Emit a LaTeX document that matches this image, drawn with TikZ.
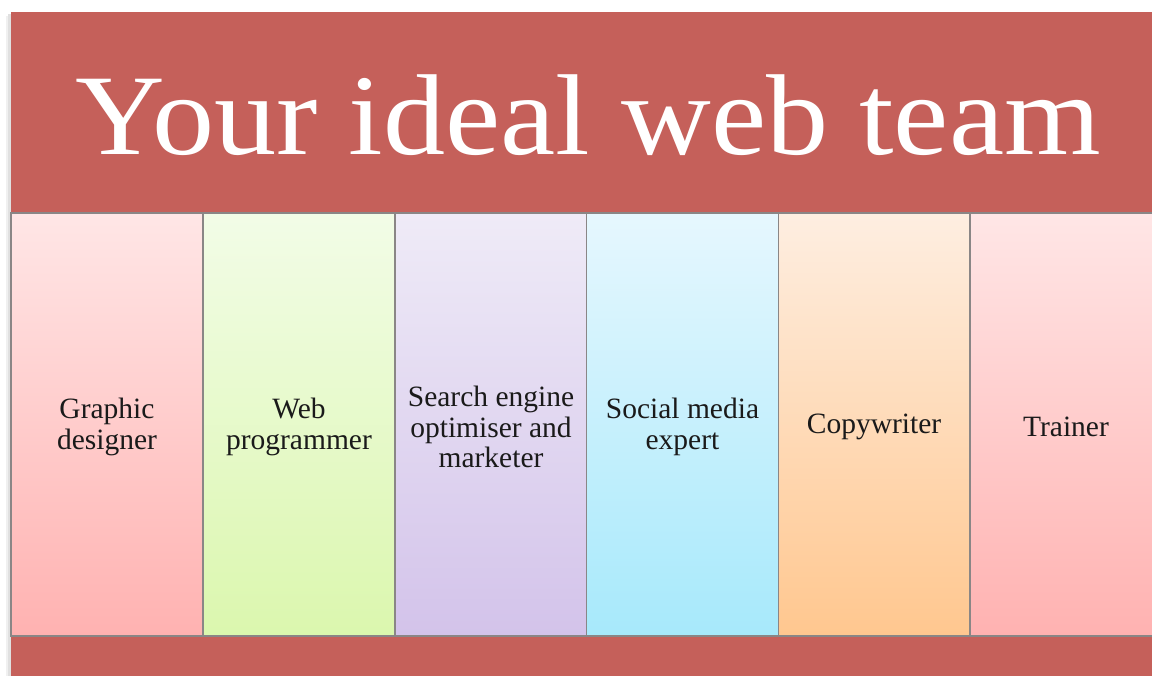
\documentclass[tikz,border=0pt]{standalone}
\usepackage{fontspec}
\setmainfont{Liberation Serif}
\definecolor{bandred}{HTML}{C5605A}
\definecolor{pinkT}{HTML}{FFE6E6}
\definecolor{pinkB}{HTML}{FFB2B1}
\definecolor{greenT}{HTML}{F2FCE7}
\definecolor{greenB}{HTML}{DBF7AE}
\definecolor{purpT}{HTML}{EFEBF7}
\definecolor{purpB}{HTML}{D3C3EA}
\definecolor{blueT}{HTML}{E6F7FE}
\definecolor{blueB}{HTML}{A7E9FB}
\definecolor{orT}{HTML}{FEEEE1}
\definecolor{orB}{HTML}{FFC78F}
\definecolor{edgegray}{HTML}{8A8686}
\definecolor{labeltext}{HTML}{1A1A1A}
\tikzset{
  colbox/.style={draw=edgegray, line width=1.4pt, minimum width=192pt, minimum height=423pt,
    inner sep=0pt},
  collabel/.style={inner sep=0pt, align=center, text=labeltext, font=\fontsize{29.5}{30.5}\selectfont},
  titletext/.style={text=white, font=\fontsize{115}{115}\selectfont, inner sep=0pt, anchor=base, xscale=1.08}
}
\begin{document}
\begin{tikzpicture}[x=1pt,y=-1pt]
\useasboundingbox (0,0) rectangle (1152,676);
\fill[white] (0,0) rectangle (1152,676);
% soft left shadow
\fill[black!12] (8,14) rectangle (11,676);
\fill[black!6] (6,16) rectangle (8,676);
% red frame
\fill[bandred] (11,12) rectangle (1152,676);
\node[titletext] (title) at (588,155) {Your ideal web team};
% columns
\node[colbox, top color=pinkT, bottom color=pinkB] (c1) at (107,424.5) {};
\node[colbox, top color=greenT, bottom color=greenB] (c2) at (299,424.5) {};
\node[colbox, top color=purpT, bottom color=purpB] (c3) at (491,424.5) {};
\node[colbox, top color=blueT, bottom color=blueB] (c4) at (682.5,424.5) {};
\node[colbox, minimum width=191pt, top color=orT, bottom color=orB] (c5) at (874,424.5) {};
\node[colbox, top color=pinkT, bottom color=pinkB] (c6) at (1066,424.5) {};
% labels
\node[collabel] (t1) at ([yshift=-2.5pt]c1.center) {Graphic\\designer};
\node[collabel] (t2) at ([yshift=-2.5pt]c2.center) {Web\\programmer};
\node[collabel] (t3) at ([yshift=-2.5pt]c3.center) {Search engine\\optimiser and\\marketer};
\node[collabel] (t4) at ([yshift=-2.5pt]c4.center) {Social media\\expert};
\node[collabel] (t5) at ([yshift=-2.5pt]c5.center) {Copywriter};
\node[collabel] (t6) at ([yshift=-2.5pt]c6.center) {Trainer};
\end{tikzpicture}
\end{document}
